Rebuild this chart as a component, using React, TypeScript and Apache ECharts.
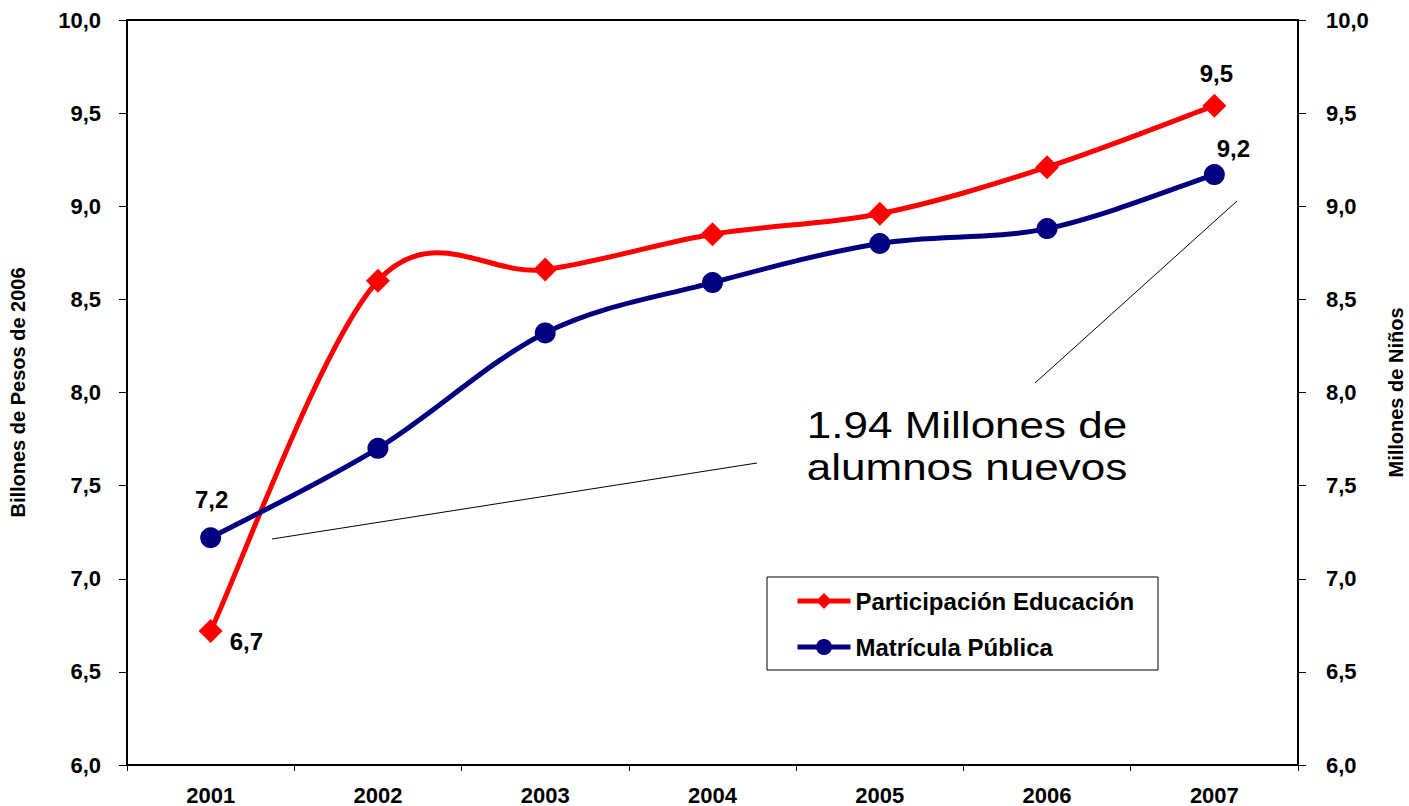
import React, { useEffect, useRef } from "react";
import * as echarts from "echarts";

const years = ["2001", "2002", "2003", "2004", "2005", "2006", "2007"];
const participacion = [6.72, 8.6, 8.66, 8.85, 8.96, 9.21, 9.54];
const matricula = [7.22, 7.7, 8.32, 8.59, 8.8, 8.88, 9.17];
const seriesNames = ["Participación Educación", "Matrícula Pública"];
const leftTitle = "Billones de Pesos de 2006";
const rightTitle = "Millones de Niños";
const annotation = "1.94 Millones de\nalumnos nuevos";

const FONT = "Liberation Sans, Arial, sans-serif";
const RED = "#FF0000";
const BLUE = "#000080";
const fmt = (v: number) => v.toFixed(1).replace(".", ",");

// Catmull-Rom style smoothing (like spreadsheet "smoothed line"), drawn through the axes' coord()
function smoothSeries(name: string, values: number[], color: string, yAxisIndex: number) {
  const n = values.length;
  return {
    name,
    type: "custom",
    yAxisIndex,
    data: values.map((v, i) => [i, v]),
    encode: { x: 0, y: 1 },
    silent: true,
    z: 2,
    renderItem: (params: any, api: any) => {
      const i = params.dataIndex;
      if (i >= n - 1) return null;
      const c = (k: number) => {
        const j = Math.max(0, Math.min(n - 1, k));
        return api.coord([j, values[j]]);
      };
      const p0 = c(i - 1), p1 = c(i), p2 = c(i + 1), p3 = c(i + 2);
      return {
        type: "bezierCurve",
        shape: {
          x1: p1[0], y1: p1[1],
          x2: p2[0], y2: p2[1],
          cpx1: p1[0] + (p2[0] - p0[0]) / 6,
          cpy1: p1[1] + (p2[1] - p0[1]) / 6,
          cpx2: p2[0] - (p3[0] - p1[0]) / 6,
          cpy2: p2[1] - (p3[1] - p1[1]) / 6,
        },
        style: { stroke: color, lineWidth: 5, fill: "none", lineCap: "round" },
      };
    },
  };
}

export default function App() {
  const ref = useRef<HTMLDivElement>(null);
  useEffect(() => {
    document.body.style.margin = "0";
    const chart = echarts.init(ref.current!, null, { renderer: "svg" });
    const lbl = { show: true, fontFamily: FONT, fontWeight: "bold", fontSize: 24, color: "#000", formatter: (p: any) => fmt(p.value) };
    const redData = participacion.map((v, i) => {
      if (i === 0) return { value: v, label: { ...lbl, position: "right", offset: [2, 11] } };
      if (i === participacion.length - 1) return { value: v, label: { ...lbl, position: "top", offset: [2, -3] } };
      return v;
    });
    const blueData = matricula.map((v, i) => {
      if (i === 0) return { value: v, label: { ...lbl, position: "top", offset: [1, -11] } };
      if (i === matricula.length - 1) return { value: v, label: { ...lbl, position: "top", offset: [19, 1] } };
      return v;
    });
    const tickFont = { fontFamily: FONT, fontWeight: "bold", fontSize: 22, color: "#000" };
    const yAxisCommon = {
      type: "value",
      min: 6,
      max: 10,
      interval: 0.5,
      splitLine: { show: false },
      axisLine: { show: true, lineStyle: { color: "#000", width: 2 } },
      axisTick: { show: true, length: 8, lineStyle: { color: "#000", width: 1 } },
      nameLocation: "middle",
      nameRotate: 90,
      nameTextStyle: { fontFamily: FONT, fontWeight: "bold", fontSize: 20, lineHeight: 20, color: "#000" },
    };
    chart.setOption({
      animation: false,
      backgroundColor: "#fff",
      grid: {
        left: 127,
        top: 20,
        width: 1171,
        height: 745,
        outerBoundsMode: "none",
        containLabel: false,
        show: true,
        borderColor: "#000",
        borderWidth: 2,
      },
      legend: {
        orient: "vertical",
        left: 795,
        top: 589,
        itemWidth: 53,
        itemHeight: 20,
        itemGap: 22,
        padding: 0,
        lineStyle: { opacity: 1, width: 5 },
        textStyle: { fontFamily: FONT, fontWeight: "bold", fontSize: 24, color: "#000", lineHeight: 24 },
        data: seriesNames,
      },
      xAxis: {
        type: "category",
        data: years,
        boundaryGap: true,
        axisLine: { lineStyle: { color: "#000", width: 2 } },
        axisTick: { show: true, length: 6, lineStyle: { color: "#000", width: 1 } },
        axisLabel: { ...tickFont, margin: 19 },
      },
      yAxis: [
        {
          ...yAxisCommon,
          position: "left",
          name: leftTitle,
          nameGap: 99,
          axisLabel: { ...tickFont, margin: 26, formatter: (v: number) => fmt(v) },
        },
        {
          ...yAxisCommon,
          position: "right",
          name: rightTitle,
          nameGap: 88,
          axisLabel: { ...tickFont, margin: 28, formatter: (v: number) => fmt(v) },
        },
      ],
      series: [
        smoothSeries("_red", participacion, RED, 0),
        smoothSeries("_blue", matricula, BLUE, 1),
        {
          name: seriesNames[0],
          type: "line",
          yAxisIndex: 0,
          data: redData,
          symbol: "diamond",
          symbolSize: 24,
          lineStyle: { color: RED, width: 5, opacity: 0 },
          itemStyle: { color: RED },
          z: 3,
        },
        {
          name: seriesNames[1],
          type: "line",
          yAxisIndex: 1,
          data: blueData,
          symbol: "circle",
          symbolSize: 21,
          lineStyle: { color: BLUE, width: 5, opacity: 0 },
          itemStyle: { color: BLUE },
          z: 3,
        },
      ],
      graphic: [
        { type: "rect", shape: { x: 767, y: 577, width: 391, height: 93 }, style: { fill: "none", stroke: "#000", lineWidth: 1 }, z: 1 },
        { type: "line", shape: { x1: 272, y1: 539, x2: 757, y2: 463 }, style: { stroke: "#000", lineWidth: 1 } },
        { type: "line", shape: { x1: 1035, y1: 383, x2: 1237, y2: 201 }, style: { stroke: "#000", lineWidth: 1 } },
        {
          type: "text",
          x: 967,
          y: 446,
          scaleX: 1.19,
          style: {
            text: annotation,
            fontFamily: FONT,
            fontSize: 37,
            lineHeight: 42,
            fill: "#000",
            align: "center",
            verticalAlign: "middle",
          },
        },
      ],
    });
    return () => chart.dispose();
  }, []);
  return <div ref={ref} style={{ position: "fixed", left: 0, top: 0, width: 1409, height: 806 }} />;
}
